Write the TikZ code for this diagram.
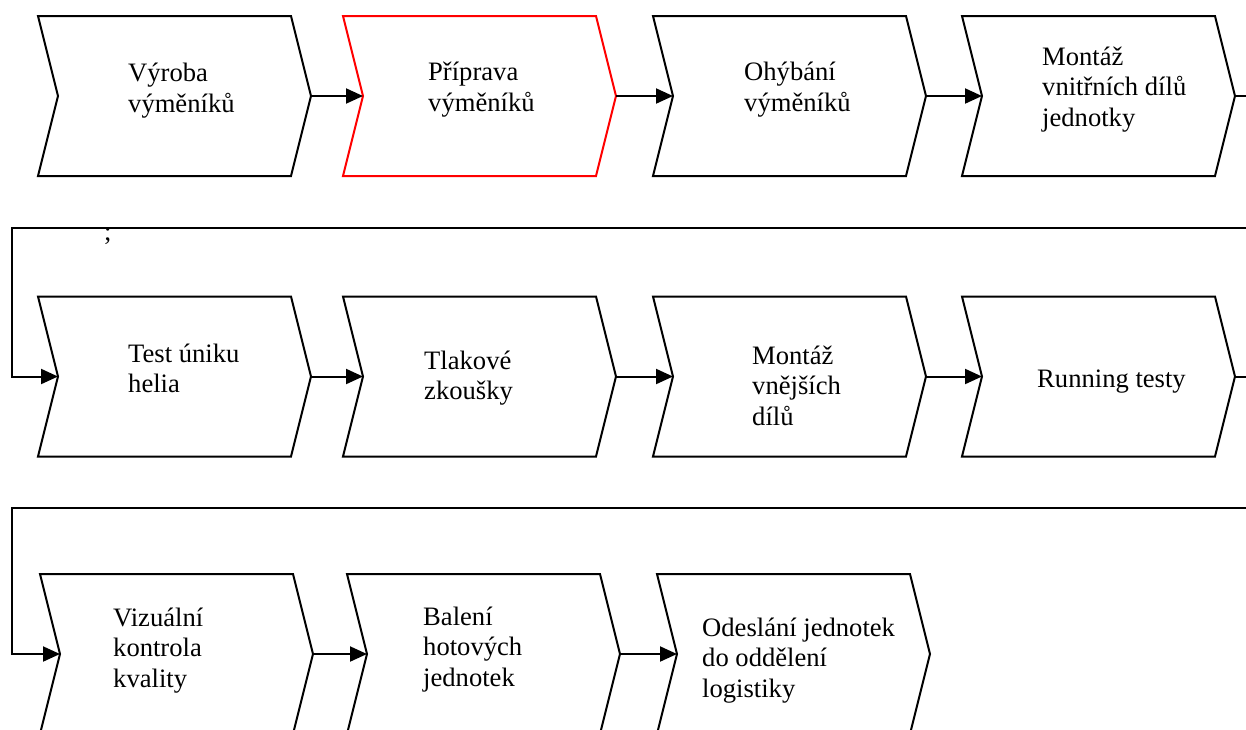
\documentclass[tikz,border=0pt]{standalone}
\usepackage{fontspec}
\setmainfont{Liberation Serif}
\usetikzlibrary{arrows.meta}

\newcommand\lblfont{\fontsize{26.6}{30.8}\selectfont}

% one process step: chevron with a notch on the left and a point on the right
% #1 name, #2 left x, #3 top y, #4 extra style
\newcommand\stage[4]{%
  \draw[chev,#4] (#2,#3) -- ++(253,0) -- ++(20,80) -- ++(-20,80)
    -- ++(-253,0) -- ++(20,-80) -- cycle;
  \coordinate (#1-in) at (#2+20,#3+80);
  \coordinate (#1-out) at (#2+273,#3+80);
}

\begin{document}
\begin{tikzpicture}[x=1pt,y=-1pt,
  chev/.style={draw=black, line width=2pt, line join=miter},
  arr/.style={draw=black, line width=2pt, -{Triangle[length=17pt,width=15pt]}},
  % labels are placed by the baseline of their last line
  lbl/.style={anchor=base west, align=left, inner sep=0pt, font=\lblfont}]
\useasboundingbox (0,0) rectangle (1246,729);

% first row
\stage{c1}{38}{16}{}
\stage{c2}{343}{16}{draw=red}
\stage{c3}{653}{16}{}
\stage{c4}{962}{16}{}
\node[lbl] (t1) at (128,112.3) {Výroba\\výměníků};
\node[lbl] (t2) at (428,111.3) {Příprava\\výměníků};
\node[lbl] (t3) at (744,111.3) {Ohýbání\\výměníků};
\node[lbl] (t4) at (1042,126.6) {Montáž\\vnitřních dílů\\jednotky};

% second row
\stage{c5}{38}{296.5}{}
\stage{c6}{343}{296.5}{}
\stage{c7}{653}{296.5}{}
\stage{c8}{962}{296.5}{}
\node[lbl] (t5) at (128,392.8) {Test úniku\\helia};
\node[lbl] (t6) at (424,399.8) {Tlakové\\zkoušky};
\node[lbl] (t7) at (752,425.6) {Montáž\\vnějších\\dílů};
\node[lbl] (t8) at (1037,387) {Running testy};
\node[lbl] (semi) at (104,240) {;};

% third row
\stage{c9}{40}{574}{}
\stage{c10}{347}{574}{}
\stage{c11}{657}{574}{}
\node[lbl] (t9) at (113,687.6) {Vizuální\\kontrola\\kvality};
\node[lbl] (t10) at (423,686.6) {Balení\\hotových\\jednotek};
\node[lbl] (t11) at (702,697.6) {Odeslání jednotek\\do oddělení\\logistiky};

% connectors within the rows
\draw[arr] (c1-out) -- (c2-in);
\draw[arr] (c2-out) -- (c3-in);
\draw[arr] (c3-out) -- (c4-in);
\draw[arr] (c5-out) -- (c6-in);
\draw[arr] (c6-out) -- (c7-in);
\draw[arr] (c7-out) -- (c8-in);
\draw[arr] (c9-out) -- (c10-in);
\draw[arr] (c10-out) -- (c11-in);

% return lines from the end of one row to the start of the next
\coordinate (e1) at (1262,228);
\coordinate (w1) at (12,228);
\coordinate (e2) at (1262,508);
\coordinate (w2) at (12,508);
\draw[arr] (c4-out) -| (e1) |- (w1) |- (c5-in);
\draw[arr] (c8-out) -| (e2) |- (w2) |- (c9-in);
\end{tikzpicture}
\end{document}
